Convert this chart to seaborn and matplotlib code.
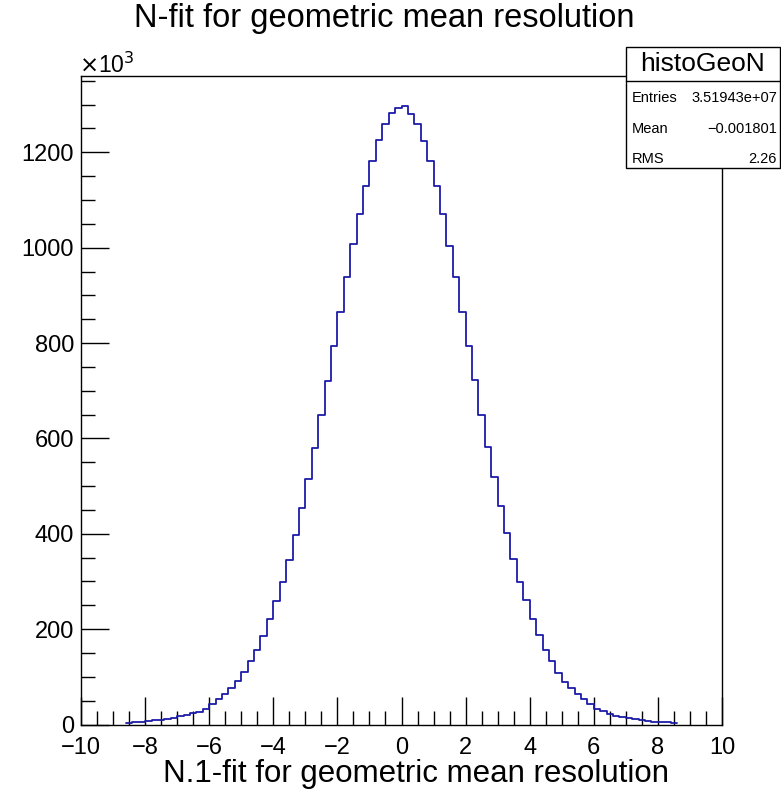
import numpy as np
import pandas as pd
import matplotlib
matplotlib.use("Agg")
import matplotlib.pyplot as plt
from matplotlib.ticker import MultipleLocator
from matplotlib.patches import Rectangle
from matplotlib.lines import Line2D
import seaborn as sns

# ---- data (counts in thousands, 0.2-wide bins from -8.6 to 8.6) ----
bin_edges_lo = -8.6
bin_width = 0.2
counts_k = [
    2.8, 4.9, 5.6, 7.0, 8.4, 9.8, 11.9, 14.0, 16.8, 19.6,
    23.1, 26.6, 31.5, 42.7, 52.5, 63.6, 76.9, 90.9, 110.5, 132.5,
    156.3, 185.6, 220.6, 259.0, 298.5, 344.7, 397.1, 454.6, 514.6, 580.4,
    648.8, 720.2, 793.6, 865.7, 938.3, 1007.5, 1071.3, 1129.2, 1181.0, 1225.1,
    1259.3, 1282.4, 1293.6, 1296.4, 1281.0, 1259.3, 1223.7, 1181.0, 1129.2, 1069.9,
    1004.2, 938.3, 865.7, 793.6, 721.6, 648.8, 582.5, 518.1, 458.7, 400.7,
    346.8, 298.5, 261.0, 220.6, 187.0, 156.0, 132.5, 108.0, 89.5, 77.0,
    63.6, 52.5, 42.7, 32.9, 27.3, 22.4, 18.2, 15.4, 12.6, 10.5,
    8.4, 7.0, 5.6, 4.9, 4.2, 2.1,
]
title = "N-fit for geometric mean resolution"
xlabel = "N.1-fit for geometric mean resolution"
stats_name = "histoGeoN"
stats_labels = ["Entries", "Mean", "RMS"]
stats_values = ["3.51943e+07", "\u22120.001801", "2.26"]
x_range = (-10, 10)
y_max = 1360

n_bins = len(counts_k)
edges = (bin_edges_lo + bin_width * np.arange(n_bins + 1)).tolist()
centers = [0.5 * (a + b) for a, b in zip(edges[:-1], edges[1:])]
df = pd.DataFrame({"x": centers, "w": counts_k})

sns.set_style("white")
plt.rcParams["font.family"] = ["Liberation Sans", "DejaVu Sans"]
plt.rcParams["text.color"] = "black"
plt.rcParams["xtick.color"] = "black"
plt.rcParams["ytick.color"] = "black"
plt.rcParams["axes.labelcolor"] = "black"

fig = plt.figure(figsize=(7.81, 7.90), dpi=100)
ax = fig.add_axes([81 / 781, 1 - 724.5 / 790, (722 - 81) / 781, (724.5 - 76) / 790])

sns.histplot(data=df, x="x", weights="w", bins=edges, element="step",
             fill=False, color="#1c1ca8", linewidth=1.3, ax=ax)

ax.set_xlim(*x_range)
ax.set_ylim(0, y_max)
ax.set_xlabel("")
ax.set_ylabel("")

ax.xaxis.set_major_locator(MultipleLocator(2))
ax.xaxis.set_minor_locator(MultipleLocator(0.5))
ax.yaxis.set_major_locator(MultipleLocator(200))
ax.yaxis.set_minor_locator(MultipleLocator(50))
ax.tick_params(axis="both", which="major", direction="in", length=20,
               width=1, color="black", labelcolor="black", labelsize=17,
               top=False, right=False)
ax.tick_params(axis="both", which="minor", direction="in", length=10,
               width=1, color="black", top=False, right=False)
ax.tick_params(axis="x", which="major", pad=9)
ax.tick_params(axis="y", which="major", pad=5)
ax.tick_params(axis="x", which="both", bottom=True)
ax.tick_params(axis="y", which="both", left=True)
for s in ax.spines.values():
    s.set_color("black")
    s.set_linewidth(1)

fig.text(0.492, 1 - 18 / 790, title, ha="center", va="center", fontsize=23.5,
         color="black")
fig.text(416 / 781, 1 - 774 / 790, xlabel, ha="center", va="center",
         fontsize=22.5, color="black")
fig.text(79 / 781, 1 - 65 / 790, r"$\times$10$^{3}$", ha="left", va="center",
         fontsize=16.5, color="black")

# stats box
bx0, bx1 = 626 / 781, 780 / 781
by0, by1 = 1 - 168 / 790, 1 - 47 / 790
sep = 1 - 81 / 790
fig.patches.append(Rectangle((bx0, by0), bx1 - bx0, by1 - by0,
                             transform=fig.transFigure, facecolor="white",
                             edgecolor="black", linewidth=1, zorder=5))
fig.lines.append(Line2D([bx0, bx1], [sep, sep], transform=fig.transFigure,
                        color="black", linewidth=1, zorder=6))
fig.text((bx0 + bx1) / 2, 1 - 64 / 790, stats_name, ha="center", va="center",
         fontsize=19, color="black", zorder=7)
rows_y = [98, 129, 159]
for lab, val, yy in zip(stats_labels, stats_values, rows_y):
    fig.text(632 / 781, 1 - yy / 790, lab, ha="left", va="center",
             fontsize=10.5, color="black", zorder=7)
    fig.text(777 / 781, 1 - yy / 790, val, ha="right", va="center",
             fontsize=10.5, color="black", zorder=7)

fig.savefig("out.png", dpi=100, facecolor="white")
